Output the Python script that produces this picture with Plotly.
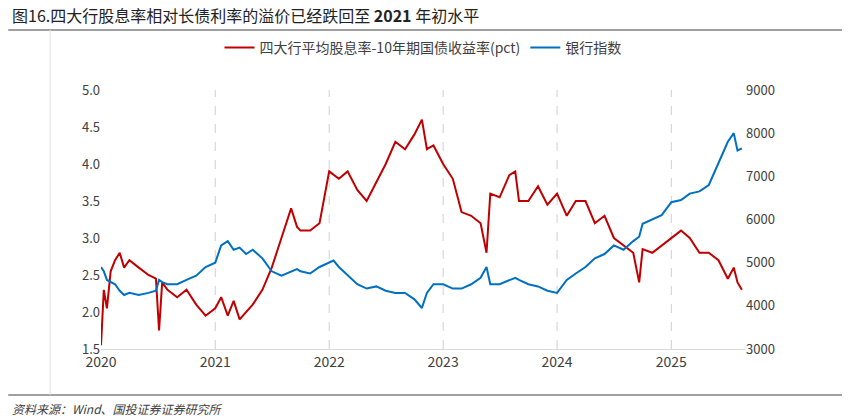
import plotly.graph_objects as go

# 月度数据
dates = [
    "2020-01-01", "2020-01-10", "2020-01-20", "2020-02-01", "2020-02-15", "2020-03-01", "2020-03-15", "2020-04-01", "2020-05-01", "2020-06-01",
    "2020-06-25", "2020-07-05", "2020-07-15", "2020-08-01", "2020-09-01", "2020-10-01", "2020-11-01", "2020-12-01", "2021-01-01", "2021-01-20",
    "2021-02-10", "2021-03-01", "2021-03-20", "2021-04-10", "2021-05-01", "2021-06-01", "2021-07-01", "2021-08-01", "2021-09-01", "2021-09-20",
    "2021-10-01", "2021-11-01", "2021-12-01", "2022-01-01", "2022-01-15", "2022-02-01", "2022-03-01", "2022-04-01", "2022-05-01", "2022-06-01",
    "2022-07-01", "2022-08-01", "2022-09-01", "2022-10-01", "2022-10-25", "2022-11-10", "2022-12-01", "2023-01-01", "2023-02-01", "2023-03-01",
    "2023-04-01", "2023-05-01", "2023-05-20", "2023-06-01", "2023-07-01", "2023-08-01", "2023-08-20", "2023-09-01", "2023-10-01", "2023-11-01",
    "2023-12-01", "2024-01-01", "2024-02-01", "2024-03-01", "2024-04-01", "2024-05-01", "2024-06-01", "2024-07-01", "2024-08-01", "2024-09-01",
    "2024-09-20", "2024-10-01", "2024-11-01", "2024-12-01", "2025-01-01", "2025-02-01", "2025-03-01", "2025-04-01", "2025-05-01", "2025-06-01",
    "2025-07-01", "2025-07-20", "2025-08-01", "2025-08-15",
]
spread = [
    1.55, 2.3, 2.05, 2.55, 2.7, 2.8, 2.6, 2.7, 2.6, 2.5,
    2.45, 1.75, 2.4, 2.3, 2.2, 2.3, 2.1, 1.95, 2.05, 2.2,
    1.95, 2.15, 1.9, 2.0, 2.1, 2.3, 2.6, 3.0, 3.4, 3.15,
    3.1, 3.1, 3.2, 3.9, 3.85, 3.8, 3.9, 3.65, 3.5, 3.75,
    4.0, 4.3, 4.2, 4.4, 4.6, 4.2, 4.25, 4.0, 3.8, 3.35,
    3.3, 3.2, 2.8, 3.6, 3.55, 3.85, 3.9, 3.5, 3.5, 3.7,
    3.45, 3.6, 3.3, 3.5, 3.5, 3.2, 3.3, 3.0, 2.9, 2.8,
    2.4, 2.85, 2.8, 2.9, 3.0, 3.1, 3.0, 2.8, 2.8, 2.7,
    2.45, 2.6, 2.4, 2.3,
]
bank_index = [
    4900, 4800, 4600, 4550, 4500, 4350, 4250, 4300, 4250, 4300,
    4350, 4600, 4550, 4500, 4500, 4600, 4700, 4900, 5000, 5400,
    5500, 5300, 5350, 5200, 5300, 5100, 4800, 4700, 4800, 4850,
    4800, 4750, 4900, 5000, 5050, 4900, 4700, 4500, 4400, 4450,
    4350, 4300, 4300, 4150, 3950, 4300, 4500, 4500, 4400, 4400,
    4500, 4650, 4900, 4500, 4500, 4600, 4650, 4600, 4500, 4450,
    4350, 4300, 4600, 4750, 4900, 5100, 5200, 5400, 5300, 5500,
    5600, 5900, 6000, 6100, 6400, 6450, 6600, 6650, 6800, 7300,
    7800, 8000, 7600, 7650,
]
years = ["2020", "2021", "2022", "2023", "2024", "2025"]

cjk = "Noto Sans CJK SC"
fig = go.Figure()
fig.add_trace(go.Scatter(x=dates, y=spread, mode="lines", name="四大行平均股息率-10年期国债收益率(pct)",
                         line=dict(color="#C00000", width=2)))
fig.add_trace(go.Scatter(x=dates, y=bank_index, mode="lines", name="银行指数", yaxis="y2",
                         line=dict(color="#0070C0", width=2)))

# 年份竖向虚线网格
grid = [dict(type="line", xref="x", yref="paper", x0=y + "-01-01", x1=y + "-01-01", y0=0, y1=1,
             line=dict(color="#D0D0D0", width=1, dash="dash"), layer="below") for y in years[1:]]

fig.update_layout(
    width=850, height=420, plot_bgcolor="white", paper_bgcolor="white",
    font=dict(family=cjk, size=13, color="#404040"),
    margin=dict(l=93, r=113, t=82, b=79),
    legend=dict(orientation="h", x=0.5, xanchor="center", y=0.905, yanchor="middle",
                yref="container", font=dict(size=14, color="#404040")),
    xaxis=dict(type="date", range=["2020-01-01", "2025-08-25"],
               tickvals=[y + "-01-01" for y in years], ticktext=years,
               showgrid=False, showline=True, linecolor="#D9D9D9", ticks="", zeroline=False,
               tickfont=dict(size=14, color="#404040")),
    yaxis=dict(range=[1.5, 5.0], dtick=0.5, tickformat=".1f", showgrid=False,
               zeroline=False, ticks="", tickfont=dict(size=13)),
    yaxis2=dict(range=[3000, 9000], dtick=1000, overlaying="y", side="right",
                showgrid=False, zeroline=False, ticks="", tickfont=dict(size=13)),
    shapes=grid + [
        dict(type="line", xref="paper", yref="paper", x0=-0.144, x1=1.175, y0=1.232, y1=1.232,
             line=dict(color="#808080", width=1.5)),
        dict(type="line", xref="paper", yref="paper", x0=-0.144, x1=1.175, y0=-0.178, y1=-0.178,
             line=dict(color="#808080", width=1.5)),
        dict(type="line", xref="paper", yref="paper", x0=-0.079, x1=-0.079, y0=-0.178, y1=1.232,
             line=dict(color="#E0E0E0", width=1)),
    ],
    annotations=[
        dict(text="图16.四大行股息率相对长债利率的溢价已经跌回至 <b>2021</b> 年初水平",
             xref="paper", yref="paper", x=-0.141, y=1.29, xanchor="left", yanchor="middle",
             showarrow=False, font=dict(size=16, color="#222222")),
        dict(text="<i>资料来源：Wind、国投证券证券研究所</i>", xref="paper", yref="paper",
             x=-0.141, y=-0.228, xanchor="left", yanchor="middle", showarrow=False,
             font=dict(size=12, color="#404040")),
    ],
)
fig.write_html("out.html")
